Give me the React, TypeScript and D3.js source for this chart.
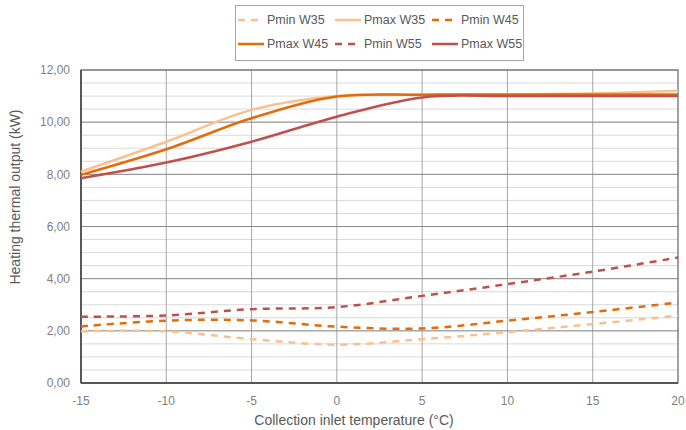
import React from "react";
import * as d3 from "d3";

const temps = [-15, -10, -5, 0, 5, 10, 15, 20];
const pminW35 = [1.98, 1.98, 1.68, 1.47, 1.68, 1.95, 2.26, 2.58];
const pmaxW35 = [8.1, 9.25, 10.47, 11.0, 11.05, 11.06, 11.1, 11.2];
const pminW45 = [2.17, 2.39, 2.4, 2.16, 2.09, 2.39, 2.72, 3.09];
const pmaxW45 = [7.98, 8.96, 10.15, 10.98, 11.05, 11.06, 11.06, 11.06];
const pminW55 = [2.54, 2.59, 2.83, 2.91, 3.34, 3.79, 4.27, 4.81];
const pmaxW55 = [7.85, 8.45, 9.25, 10.21, 10.95, 11.0, 11.0, 11.0];

const seriesNames = ["Pmin W35", "Pmax W35", "Pmin W45", "Pmax W45", "Pmin W55", "Pmax W55"];
const seriesColors = ["#FAC090", "#FAC090", "#E36C09", "#E36C09", "#C0504D", "#C0504D"];
const seriesDashed = [true, false, true, false, true, false];
const seriesValues = [pminW35, pmaxW35, pminW45, pmaxW45, pminW55, pmaxW55];

const xTicks = [-15, -10, -5, 0, 5, 10, 15, 20];
const yMajorTicks = [0, 2, 4, 6, 8, 10, 12];
const yMinorTicks = d3.range(0, 12.01, 0.5);

const W = 686;
const H = 430;
const L = 81, R = 678, T = 70, B = 383;

export default function App() {
  const x = d3.scaleLinear().domain([-15, 20]).range([L, R]);
  const y = d3.scaleLinear().domain([0, 12]).range([B, T]);
  const line = d3
    .line<[number, number]>()
    .x((d) => x(d[0]))
    .y((d) => y(d[1]))
    .curve(d3.curveCatmullRom.alpha(0.5));

  const fmt = (v: number) => v.toFixed(2).replace(".", ",");
  const font = "'Liberation Sans', Arial, sans-serif";

  const legendCols = [238, 335, 432];
  const legendRows = [20, 44];

  return (
    <svg
      width={W}
      height={H}
      style={{ position: "absolute", left: 0, top: 0, background: "#fff" }}
      fontFamily={font}
    >
      {yMinorTicks.map((v) => (
        <line key={"mn" + v} x1={L} x2={R} y1={y(v)} y2={y(v)} stroke="#d9d9d9" strokeWidth={1} />
      ))}
      {xTicks.map((v) => (
        <line key={"vx" + v} x1={x(v)} x2={x(v)} y1={T} y2={B} stroke="#a6a6a6" strokeWidth={1} />
      ))}
      {yMajorTicks.map((v) => (
        <line key={"mj" + v} x1={L} x2={R} y1={y(v)} y2={y(v)} stroke="#8c8c8c" strokeWidth={1} />
      ))}
      <rect x={L} y={T} width={R - L} height={B - T} fill="none" stroke="#7f7f7f" strokeWidth={1.2} />
      <line x1={L} x2={L} y1={T} y2={B} stroke="#404040" strokeWidth={1.5} />
      <line x1={L} x2={R} y1={B} y2={B} stroke="#404040" strokeWidth={1.5} />

      {seriesValues.map((vals, i) => (
        <path
          key={seriesNames[i]}
          d={line(temps.map((t, j) => [t, vals[j]] as [number, number])) || ""}
          fill="none"
          stroke={seriesColors[i]}
          strokeWidth={2.5}
          strokeDasharray={seriesDashed[i] ? "7,6" : undefined}
        />
      ))}

      {yMajorTicks.map((v) => (
        <text key={"yl" + v} x={70} y={y(v)} dy="0.35em" textAnchor="end" fontSize={12} fill="#7f7f7f">
          {fmt(v)}
        </text>
      ))}
      {xTicks.map((v) => (
        <text key={"xl" + v} x={x(v)} y={405} textAnchor="middle" fontSize={12} fill="#7f7f7f">
          {v}
        </text>
      ))}
      <text x={354} y={425} textAnchor="middle" fontSize={14} fill="#595959">
        Collection inlet temperature (°C)
      </text>
      <text
        transform={`translate(20,197) rotate(-90)`}
        textAnchor="middle"
        fontSize={14}
        fill="#595959"
      >
        Heating thermal output (kW)
      </text>

      <rect x={235.5} y={5.5} width={288} height={55} fill="#fff" stroke="#a6a6a6" strokeWidth={1} />
      {seriesNames.map((n, i) => {
        const cx = legendCols[i % 3];
        const cy = legendRows[Math.floor(i / 3)];
        return (
          <g key={"lg" + n}>
            <line
              x1={cx}
              x2={cx + 26}
              y1={cy}
              y2={cy}
              stroke={seriesColors[i]}
              strokeWidth={2.5}
              strokeDasharray={seriesDashed[i] ? "7,6" : undefined}
            />
            <text x={cx + 29} y={cy} dy="0.35em" fontSize={12.5} fill="#595959">
              {n}
            </text>
          </g>
        );
      })}
    </svg>
  );
}
